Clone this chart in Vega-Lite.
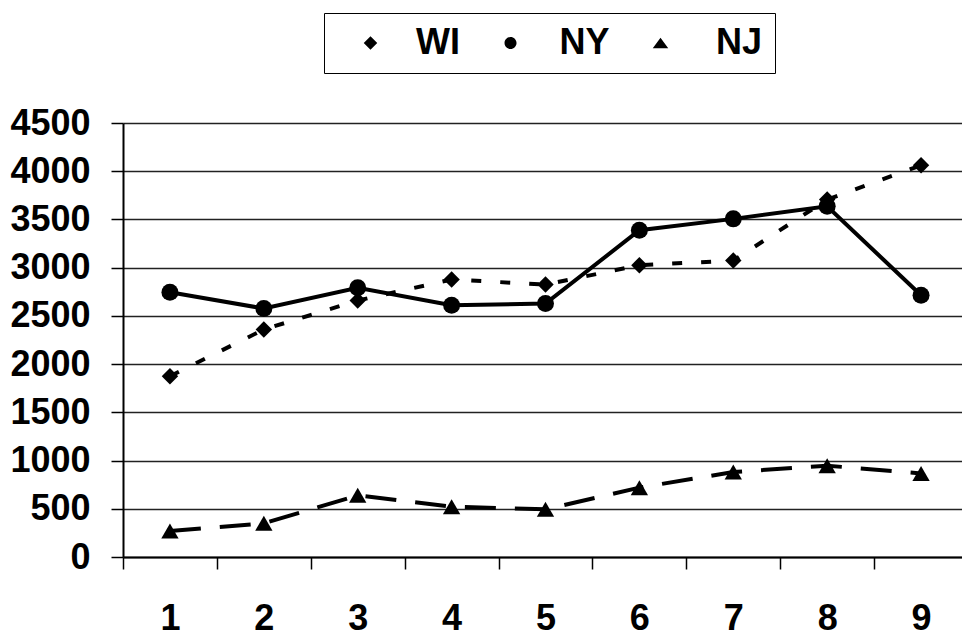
{
  "$schema": "https://vega.github.io/schema/vega-lite/v6.json",
  "width": 845,
  "height": 434,
  "autosize": {"type": "none"},
  "padding": {"left": 123, "top": 123, "right": 0, "bottom": 76},
  "background": "white",
  "config": {"view": {"stroke": null}, "font": "Liberation Sans"},
  "data": {
    "values": [
      {"series": "WI", "x": "1", "value": 1875},
      {"series": "WI", "x": "2", "value": 2359},
      {"series": "WI", "x": "3", "value": 2659},
      {"series": "WI", "x": "4", "value": 2877},
      {"series": "WI", "x": "5", "value": 2825},
      {"series": "WI", "x": "6", "value": 3025},
      {"series": "WI", "x": "7", "value": 3074},
      {"series": "WI", "x": "8", "value": 3706},
      {"series": "WI", "x": "9", "value": 4061},
      {"series": "NY", "x": "1", "value": 2745},
      {"series": "NY", "x": "2", "value": 2577},
      {"series": "NY", "x": "3", "value": 2791},
      {"series": "NY", "x": "4", "value": 2611},
      {"series": "NY", "x": "5", "value": 2628},
      {"series": "NY", "x": "6", "value": 3388},
      {"series": "NY", "x": "7", "value": 3506},
      {"series": "NY", "x": "8", "value": 3636},
      {"series": "NY", "x": "9", "value": 2714},
      {"series": "NJ", "x": "1", "value": 270},
      {"series": "NJ", "x": "2", "value": 349},
      {"series": "NJ", "x": "3", "value": 639},
      {"series": "NJ", "x": "4", "value": 522},
      {"series": "NJ", "x": "5", "value": 494},
      {"series": "NJ", "x": "6", "value": 719},
      {"series": "NJ", "x": "7", "value": 881},
      {"series": "NJ", "x": "8", "value": 947},
      {"series": "NJ", "x": "9", "value": 867}
    ]
  },
  "encoding": {
    "x": {
      "field": "x",
      "type": "ordinal",
      "scale": {"type": "band", "paddingInner": 0, "paddingOuter": 0},
      "axis": {
        "title": null,
        "labelAngle": 0,
        "tickBand": "extent",
        "grid": false,
        "domainColor": "black",
        "domainWidth": 2,
        "tickColor": "black",
        "tickWidth": 1.5,
        "tickSize": 12,
        "labelFontSize": 36,
        "labelFontWeight": "bold",
        "labelColor": "black",
        "labelBaseline": "alphabetic",
        "labelPadding": 60
      }
    },
    "y": {
      "field": "value",
      "type": "quantitative",
      "scale": {"domain": [0, 4500], "nice": false},
      "axis": {
        "title": null,
        "format": "d",
        "values": [0, 500, 1000, 1500, 2000, 2500, 3000, 3500, 4000, 4500],
        "grid": true,
        "gridColor": "#222222",
        "gridWidth": 1.5,
        "domainColor": "black",
        "domainWidth": 2,
        "tickColor": "black",
        "tickWidth": 1.5,
        "tickSize": 12,
        "labelFontSize": 36,
        "labelFontWeight": "bold",
        "labelColor": "black",
        "labelPadding": 21
      }
    }
  },
  "layer": [
    {
      "transform": [{"filter": "datum.series == 'WI'"}],
      "mark": {"type": "line", "color": "black", "strokeWidth": 4, "strokeDash": [10, 19]}
    },
    {
      "transform": [{"filter": "datum.series == 'WI'"}],
      "mark": {"type": "point", "filled": true, "color": "black", "opacity": 1, "shape": "diamond", "size": 270}
    },
    {
      "transform": [{"filter": "datum.series == 'NY'"}],
      "mark": {"type": "line", "color": "black", "strokeWidth": 4}
    },
    {
      "transform": [{"filter": "datum.series == 'NY'"}],
      "mark": {"type": "point", "filled": true, "color": "black", "opacity": 1, "shape": "circle", "size": 289}
    },
    {
      "transform": [{"filter": "datum.series == 'NJ'"}],
      "mark": {"type": "line", "color": "black", "strokeWidth": 4, "strokeDash": [31, 19]}
    },
    {
      "transform": [{"filter": "datum.series == 'NJ'"}],
      "mark": {"type": "point", "filled": true, "color": "black", "opacity": 1, "shape": "triangle-up", "size": 300}
    },
    {
      "mark": {"type": "point", "filled": false, "color": "black", "fill": "black", "stroke": "black", "strokeWidth": 4.5, "opacity": 0, "size": 225},
      "encoding": {
        "shape": {
          "field": "series",
          "type": "nominal",
          "scale": {
            "domain": ["WI", "NY", "NJ"],
            "range": [
              "M-4,0H-2.93M0.53,-0.9L1.43,0L0.53,0.9L-0.37,0ZM3.6,0H4.8",
              "M-4.47,0H5M0.87,0A0.8,0.8 0 1 1 -0.73,0A0.8,0.8 0 1 1 0.87,0Z",
              "M-5.33,0H-1.5M-0.8,-0.7L0.23,0.7L-1.83,0.7ZM1.87,0H3.33"
            ]
          },
          "legend": {
            "orient": "none",
            "legendX": 201,
            "legendY": -110,
            "direction": "horizontal",
            "title": null,
            "strokeColor": "black",
            "padding": 12,
            "symbolSize": 225,
            "symbolStrokeWidth": 4.5,
            "symbolFillColor": "black",
            "symbolStrokeColor": "black",
            "symbolOpacity": 1,
            "symbolOffset": 12.5,
            "labelOffset": 31.5,
            "columnPadding": 6.5,
            "labelFontSize": 36,
            "labelFontWeight": "bold",
            "labelColor": "black",
            "labelFont": "Liberation Sans",
            "encode": {
              "legend": {"strokeWidth": {"value": 1.5}},
              "symbols": {
                "fill": {"value": "black"},
                "stroke": {"value": "black"},
                "strokeWidth": {"value": 4.5}
              }
            }
          }
        }
      }
    }
  ]
}
